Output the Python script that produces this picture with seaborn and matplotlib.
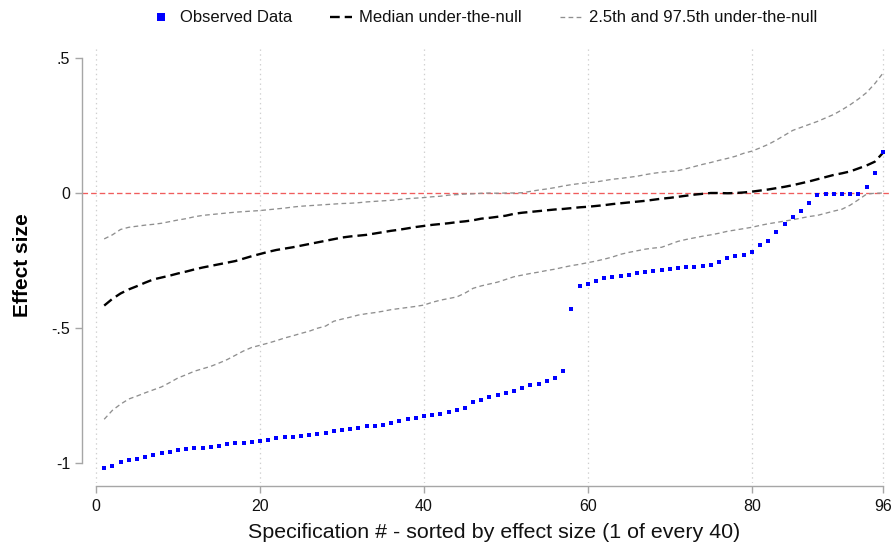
import numpy as np
import pandas as pd
import matplotlib
matplotlib.use("Agg")
import matplotlib.pyplot as plt
from matplotlib.lines import Line2D
import seaborn as sns

# Specification index (1 of every 40, sorted by effect size)
spec = list(range(1, 97))

observed = [
    -1.017, -1.010, -0.995, -0.988, -0.984, -0.977, -0.969, -0.962, -0.958, -0.951,
    -0.947, -0.943, -0.943, -0.940, -0.936, -0.929, -0.925, -0.925, -0.921, -0.917,
    -0.914, -0.906, -0.902, -0.902, -0.899, -0.895, -0.891, -0.888, -0.880, -0.877,
    -0.873, -0.869, -0.862, -0.862, -0.858, -0.851, -0.843, -0.836, -0.832, -0.825,
    -0.821, -0.817, -0.810, -0.803, -0.795, -0.773, -0.766, -0.754, -0.747, -0.740,
    -0.732, -0.721, -0.710, -0.706, -0.695, -0.684, -0.658, -0.428, -0.343, -0.336,
    -0.325, -0.314, -0.310, -0.306, -0.303, -0.295, -0.291, -0.288, -0.284, -0.280,
    -0.277, -0.273, -0.273, -0.269, -0.266, -0.254, -0.240, -0.232, -0.229, -0.217,
    -0.191, -0.177, -0.143, -0.114, -0.088, -0.066, -0.036, -0.006, -0.003, -0.003,
    -0.003, -0.003, -0.003, 0.023, 0.075, 0.152,
]

median_null = [
    -0.417, -0.392, -0.372, -0.357, -0.345, -0.332, -0.320, -0.313, -0.306, -0.298,
    -0.291, -0.283, -0.276, -0.270, -0.264, -0.258, -0.252, -0.243, -0.234, -0.226,
    -0.218, -0.211, -0.206, -0.201, -0.195, -0.189, -0.183, -0.177, -0.171, -0.165,
    -0.161, -0.158, -0.155, -0.150, -0.145, -0.140, -0.136, -0.131, -0.126, -0.122,
    -0.118, -0.115, -0.112, -0.108, -0.105, -0.101, -0.095, -0.092, -0.088, -0.084,
    -0.077, -0.073, -0.070, -0.067, -0.064, -0.061, -0.059, -0.056, -0.053, -0.051,
    -0.048, -0.045, -0.041, -0.038, -0.035, -0.032, -0.029, -0.025, -0.021, -0.018,
    -0.014, -0.010, -0.006, -0.003, 0.000, 0.000, -0.001, 0.000, 0.002, 0.005,
    0.009, 0.013, 0.018, 0.023, 0.029, 0.036, 0.043, 0.051, 0.059, 0.067,
    0.073, 0.080, 0.091, 0.102, 0.116, 0.149,
]

upper_null = [
    -0.170, -0.155, -0.135, -0.127, -0.123, -0.119, -0.116, -0.112, -0.106, -0.100,
    -0.095, -0.088, -0.083, -0.080, -0.077, -0.074, -0.071, -0.069, -0.067, -0.065,
    -0.062, -0.059, -0.056, -0.052, -0.049, -0.047, -0.045, -0.043, -0.041, -0.039,
    -0.038, -0.036, -0.033, -0.031, -0.029, -0.027, -0.024, -0.021, -0.019, -0.017,
    -0.014, -0.012, -0.008, -0.006, -0.004, -0.003, -0.001, 0.000, -0.001, 0.000,
    0.000, 0.001, 0.006, 0.011, 0.015, 0.020, 0.026, 0.031, 0.035, 0.038,
    0.041, 0.046, 0.051, 0.054, 0.058, 0.062, 0.068, 0.073, 0.077, 0.080,
    0.083, 0.090, 0.098, 0.106, 0.113, 0.121, 0.128, 0.136, 0.147, 0.155,
    0.167, 0.180, 0.196, 0.214, 0.232, 0.243, 0.254, 0.265, 0.278, 0.291,
    0.308, 0.327, 0.348, 0.372, 0.405, 0.444,
]

lower_null = [
    -0.838, -0.805, -0.782, -0.763, -0.752, -0.740, -0.729, -0.718, -0.702, -0.685,
    -0.673, -0.660, -0.651, -0.642, -0.630, -0.617, -0.601, -0.585, -0.572, -0.564,
    -0.556, -0.547, -0.537, -0.529, -0.520, -0.512, -0.501, -0.493, -0.475, -0.467,
    -0.460, -0.452, -0.447, -0.443, -0.438, -0.432, -0.428, -0.424, -0.420, -0.415,
    -0.405, -0.397, -0.391, -0.385, -0.371, -0.353, -0.344, -0.337, -0.330, -0.320,
    -0.310, -0.304, -0.298, -0.293, -0.287, -0.282, -0.275, -0.269, -0.264, -0.258,
    -0.252, -0.245, -0.237, -0.227, -0.220, -0.214, -0.208, -0.204, -0.201, -0.190,
    -0.179, -0.172, -0.166, -0.160, -0.155, -0.149, -0.142, -0.137, -0.132, -0.127,
    -0.120, -0.114, -0.109, -0.104, -0.099, -0.093, -0.087, -0.083, -0.075, -0.067,
    -0.060, -0.045, -0.025, -0.004, -0.001, 0.000,
]

x_ticks = [0, 20, 40, 60, 80, 96]
y_ticks = [0.5, 0.0, -0.5, -1.0]
y_tick_labels = [".5", "0", "-.5", "-1"]

df = pd.DataFrame({
    "spec": spec,
    "observed": observed,
    "median": median_null,
    "upper": upper_null,
    "lower": lower_null,
})

sns.set_style("white")
plt.rcParams["font.family"] = ["Liberation Sans", "DejaVu Sans"]
plt.rcParams["lines.scale_dashes"] = False

W, H = 896, 546
fig = plt.figure(figsize=(W / 100, H / 100), dpi=100)
left_px, right_px, top_px, bottom_px = 88, 890, 48, 483
ax = fig.add_axes([left_px / W, 1 - bottom_px / H,
                   (right_px - left_px) / W, (bottom_px - top_px) / H])

axis_grey = "#a6a6a6"
band_grey = "#8f8f8f"
obs_blue = "#0000ff"

# zero reference line
ax.axhline(0, xmin=-6 / (right_px - left_px), xmax=1.0, color="#f05c5c",
           lw=0.95, ls=(0, (4.0, 2.2)), zorder=1, clip_on=False)

band_ls = (0, (3.4, 2.4))
sns.lineplot(data=df, x="spec", y="upper", ax=ax, color=band_grey, lw=0.95,
             linestyle=band_ls, zorder=2)
sns.lineplot(data=df, x="spec", y="lower", ax=ax, color=band_grey, lw=0.95,
             linestyle=band_ls, zorder=2)
sns.lineplot(data=df, x="spec", y="median", ax=ax, color="black", lw=1.7,
             linestyle=(0, (7.0, 3.6)), zorder=3)
sns.scatterplot(data=df, x="spec", y="observed", ax=ax, color=obs_blue,
                marker="s", s=11, linewidth=0, zorder=4)

# axis scaling: 0..96 on x, -1..0.5 on y
ax.set_xlim(-(96 - left_px) / 8.198, 96 + (right_px - 883) / 8.198)
ax.set_ylim(-1 - (bottom_px - 463) / 270, 0.5 + (58 - top_px) / 270)

ax.set_xticks(x_ticks)
ax.set_xticklabels([str(t) for t in x_ticks])
ax.set_yticks(y_ticks)
ax.set_yticklabels(y_tick_labels)

ax.grid(axis="x", linestyle=(0, (1, 2.5)), color="#cfcfcf", lw=0.9)
ax.grid(axis="y", visible=False)

for side in ("top", "right"):
    ax.spines[side].set_visible(False)
ax.spines["left"].set_position(("outward", 4.3))
ax.spines["bottom"].set_position(("outward", 2.2))
ax.spines["left"].set_bounds(-1, 0.5)
ax.spines["bottom"].set_bounds(0, 96)
for side in ("left", "bottom"):
    ax.spines[side].set_color(axis_grey)
    ax.spines[side].set_linewidth(1.0)

ax.tick_params(axis="both", which="major", direction="out", length=5,
               width=1.0, color=axis_grey, labelsize=11.5, labelcolor="#111111")
ax.tick_params(axis="y", pad=3.5)
ax.tick_params(axis="x", pad=4)
ax.tick_params(bottom=True, left=True)

ax.set_xlabel("Specification # - sorted by effect size (1 of every 40)",
              fontsize=15.4, color="#111111")
ax.set_ylabel("Effect size", fontsize=15, fontweight="bold", color="black")
ax.xaxis.set_label_coords((494 - left_px) / (right_px - left_px),
                          (bottom_px - 523) / (bottom_px - top_px))
ax.yaxis.set_label_coords((22 - left_px) / (right_px - left_px),
                          (bottom_px - 265) / (bottom_px - top_px))
ax.yaxis.label.set_va("center")

handles = [
    Line2D([], [], color=obs_blue, marker="s", markersize=5.2, linestyle="none",
           markeredgewidth=0),
    Line2D([], [], color="black", lw=1.7, linestyle=(0, (7.0, 3.6))),
    Line2D([], [], color=band_grey, lw=0.95, linestyle=band_ls),
]
labels = ["Observed Data", "Median under-the-null",
          "2.5th and 97.5th under-the-null"]
leg = ax.legend(handles, labels, loc="center", ncol=3, frameon=False,
                bbox_to_anchor=(0.5 - 5 / (right_px - left_px),
                                1 + (top_px - 18) / (bottom_px - top_px)),
                fontsize=12, handlelength=1.3, handletextpad=0.45,
                columnspacing=2.3, borderaxespad=0)
for t in leg.get_texts():
    t.set_color("#111111")

fig.savefig("out.png", dpi=100)
